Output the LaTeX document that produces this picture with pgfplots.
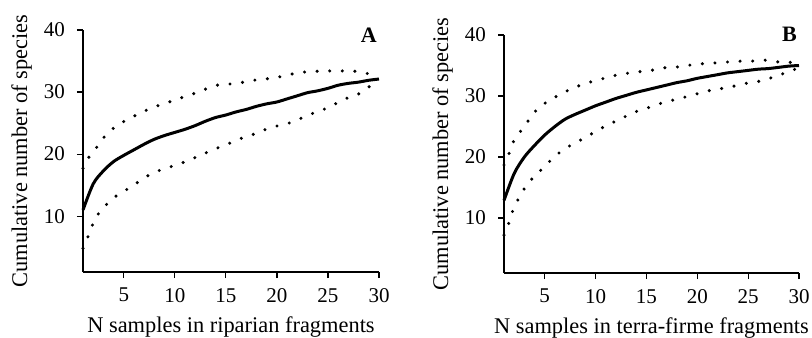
\documentclass[border=0pt]{standalone}
\usepackage{pgfplots}
\pgfplotsset{compat=1.18}
\usepackage{fontspec}
\setmainfont{Liberation Serif}

\pgfplotsset{
  panel/.style={
    scale only axis,
    xmin=1, xmax=30, ymin=1, ymax=40,
    axis x line*=bottom, axis y line*=left,
    xtick={5,10,15,20,25,30},
    ytick={10,20,30,40},
    tick align=outside,
    major tick length=6bp,
    axis line style={line width=1.2bp},
    every tick/.style={line width=1.2bp, black},
    /pgf/number format/assume math mode=true,
    tick label style={font=\fontsize{21bp}{25bp}\selectfont, inner sep=0pt},
    yticklabel style={xshift=-12bp},
    xticklabel style={yshift=-10bp},
    label style={font=\fontsize{22.4bp}{26bp}\selectfont, inner sep=0pt},
    xlabel style={at={(axis description cs:0.5,0)}, anchor=north, yshift=-44.5bp},
    clip=false,
  },
  mean/.style={black, line width=3bp, smooth, tension=0.5, no marks},
  ci/.style={black, line width=3.4bp, line cap=round, dash pattern=on 0bp off 12.6bp, smooth, tension=0.5, no marks},
}

\begin{document}
\begin{tikzpicture}
\useasboundingbox (0,0) rectangle (812bp,338bp);
% Panel A
\begin{axis}[panel, at={(83bp,66bp)}, anchor=south west, width=296bp, height=242bp,
  xlabel={N samples in riparian fragments}, ylabel={Cumulative number of species},
  ylabel style={at={(axis description cs:-0.1723,0.5)}, anchor=south}]
\addplot[mean] coordinates {(1,11) (2,15.2) (3,17.3) (4,18.8) (5,19.8) (6,20.7) (7,21.6) (8,22.4) (9,23.0) (10,23.5) (11,24.0) (12,24.6) (13,25.3) (14,25.9) (15,26.3) (16,26.8) (17,27.2) (18,27.7) (19,28.1) (20,28.4) (21,28.9) (22,29.4) (23,29.9) (24,30.2) (25,30.6) (26,31.1) (27,31.4) (28,31.6) (29,31.9) (30,32.1)};
\addplot[ci] coordinates {(1,17.7) (1.62,19.6) (2.44,21.3) (3.25,23.1) (4.24,24.5) (5.38,25.6) (6.6,26.6) (7.8,27.5) (9.1,28.2) (10.3,28.9) (11.6,29.6) (12.9,30.4) (14.1,31.1) (15.4,31.3) (16.8,31.6) (18.1,32.0) (19.4,32.2) (20.7,32.6) (22.0,33.1) (23.3,33.3) (24.6,33.4) (26.0,33.4) (27.3,33.4) (28.6,33.1) (30,32.4)};
\addplot[ci] coordinates {(1,4.8) (1.46,6.56) (1.95,8.66) (2.6,10.6) (3.5,12.2) (4.46,13.5) (5.6,14.6) (6.75,15.9) (7.9,17.0) (9.1,17.7) (10.4,18.4) (11.65,19.2) (12.9,20.1) (14.2,21.0) (15.3,21.7) (16.6,22.6) (17.9,23.3) (19.1,24.1) (20.4,24.7) (21.6,25.2) (22.9,26.2) (24.1,26.9) (25.3,27.7) (26.5,28.8) (27.8,29.5) (28.9,30.7) (30,32.0)};
\node[anchor=north east, inner sep=0pt, font=\fontsize{22bp}{26bp}\selectfont\bfseries] at (axis description cs:1,1) [xshift=-2bp, yshift=2bp] {A};
\end{axis}
% Panel B
\begin{axis}[panel, at={(504bp,65bp)}, anchor=south west, width=295bp, height=238bp,
  xlabel={N samples in terra-firme fragments}, ylabel={Cumulative number of species},
  ylabel style={at={(axis description cs:-0.1729,0.5)}, anchor=south}]
\addplot[mean] coordinates {(1,12.9) (2,17.3) (3,20.0) (4,21.9) (5,23.6) (6,25.0) (7,26.2) (8,27.0) (9,27.7) (10,28.4) (11,29.0) (12,29.6) (13,30.1) (14,30.6) (15,31.0) (16,31.4) (17,31.8) (18,32.2) (19,32.5) (20,32.9) (21,33.2) (22,33.5) (23,33.8) (24,34.0) (25,34.2) (26,34.4) (27,34.5) (28,34.7) (29,34.9) (30,35.0)};
\addplot[ci] coordinates {(1,18.7) (1.5,20.6) (2.0,22.8) (2.8,24.6) (3.55,26.3) (4.4,28.1) (5.5,29.3) (6.55,30.3) (7.8,31.3) (9.1,32.1) (10.4,32.7) (11.7,33.3) (13.0,33.7) (14.4,34.0) (15.8,34.3) (17.1,34.7) (18.4,34.8) (19.75,35.2) (21.1,35.35) (22.45,35.5) (23.86,35.7) (25.2,35.7) (26.5,35.9) (27.9,35.6) (29.3,35.5) (30,35.2)};
\addplot[ci] coordinates {(1,7.2) (1.46,9.1) (1.86,11.2) (2.4,13.1) (3.07,15.0) (3.9,16.7) (4.87,18.25) (5.8,19.8) (6.9,21.3) (8.0,22.3) (9.2,23.4) (10.3,24.5) (11.5,25.5) (12.75,26.5) (13.9,27.4) (15.2,28.1) (16.6,28.9) (17.9,29.45) (19.2,30.0) (20.5,30.6) (21.8,31.1) (23.1,31.4) (24.5,32.0) (25.8,32.3) (27.1,32.9) (28.5,33.7) (29.8,34.5)};
\node[anchor=north east, inner sep=0pt, font=\fontsize{22bp}{26bp}\selectfont\bfseries] at (axis description cs:1,1) [xshift=-2bp, yshift=8bp] {B};
\end{axis}
\end{tikzpicture}
\end{document}
